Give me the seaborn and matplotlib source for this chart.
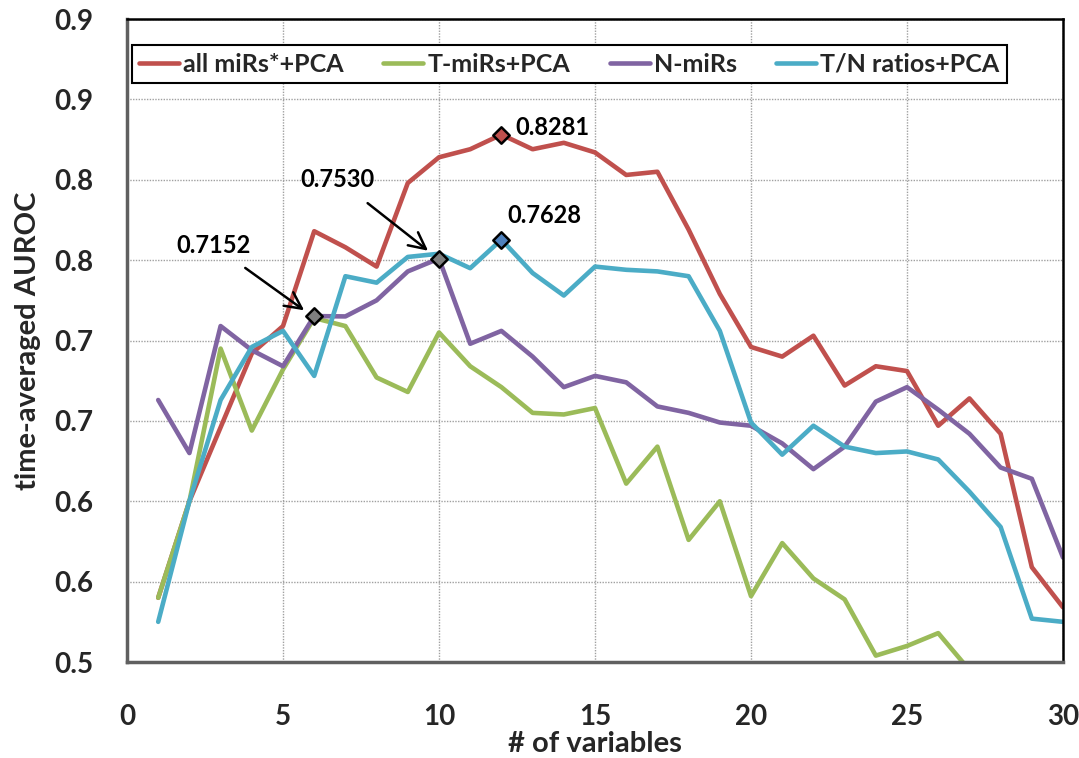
import numpy as np
import pandas as pd
import seaborn as sns
import matplotlib.pyplot as plt
from matplotlib.lines import Line2D

# ---- data ----
n_vars = list(range(1, 31))

all_mirs_pca = [0.540, 0.600, 0.646, 0.692, 0.709, 0.768, 0.758, 0.746, 0.798, 0.814,
                0.819, 0.8281, 0.819, 0.823, 0.817, 0.803, 0.805, 0.769, 0.729, 0.696,
                0.690, 0.703, 0.672, 0.684, 0.681, 0.647, 0.664, 0.642, 0.559, 0.534]
t_mirs_pca = [0.540, 0.600, 0.695, 0.644, 0.682, 0.714, 0.709, 0.677, 0.668, 0.705,
              0.684, 0.671, 0.655, 0.654, 0.658, 0.611, 0.634, 0.576, 0.600, 0.541,
              0.574, 0.552, 0.539, 0.504, 0.510, 0.518, 0.495, np.nan, np.nan, np.nan]
n_mirs = [0.663, 0.630, 0.709, 0.694, 0.684, 0.7152, 0.715, 0.725, 0.743, 0.751,
          0.698, 0.706, 0.690, 0.671, 0.678, 0.674, 0.659, 0.655, 0.649, 0.647,
          0.636, 0.620, 0.634, 0.662, 0.671, 0.657, 0.642, 0.621, 0.614, 0.565]
tn_ratios_pca = [0.525, 0.600, 0.663, 0.696, 0.706, 0.678, 0.740, 0.736, 0.752, 0.754,
                 0.745, 0.7628, 0.742, 0.728, 0.746, 0.744, 0.743, 0.740, 0.706, 0.649,
                 0.629, 0.647, 0.634, 0.630, 0.631, 0.626, 0.606, 0.584, 0.527, 0.525]

series_names = ["all miRs*+PCA", "T-miRs+PCA", "N-miRs", "T/N ratios+PCA"]
series_colors = ["#C0504D", "#9BBB59", "#8064A2", "#4BACC6"]

y_ticks = [0.50, 0.55, 0.60, 0.65, 0.70, 0.75, 0.80, 0.85, 0.90]
y_tick_labels = ["0.5", "0.6", "0.6", "0.7", "0.7", "0.8", "0.8", "0.9", "0.9"]
x_ticks = [0, 5, 10, 15, 20, 25, 30]

# highlighted points: (series, x, label)
highlights = [("N-miRs", 6, "0.7152"), ("N-miRs", 10, "0.7530"),
              ("all miRs*+PCA", 12, "0.8281"), ("T/N ratios+PCA", 12, "0.7628")]

df = pd.DataFrame({
    "vars": n_vars * 4,
    "auroc": all_mirs_pca + t_mirs_pca + n_mirs + tn_ratios_pca,
    "model": sum([[s] * len(n_vars) for s in series_names], []),
})

sns.set_style("white")
plt.rcParams["font.family"] = ["Lato", "DejaVu Sans"]
plt.rcParams["font.weight"] = "bold"

fig = plt.figure(figsize=(10.79, 7.58), dpi=100)
ax = fig.add_axes([0.1177, 0.1266, 0.8675, 0.8483])

sns.lineplot(data=df, x="vars", y="auroc", hue="model", hue_order=series_names,
             palette=series_colors, linewidth=3.3, ax=ax, legend=False)

# diamond markers
lookup = dict(zip(series_names, [all_mirs_pca, t_mirs_pca, n_mirs, tn_ratios_pca]))
fills = {"N-miRs": "#7f7f7f", "all miRs*+PCA": "#C0504D", "T/N ratios+PCA": "#4F81BD"}
for name, xv, lab in highlights:
    yv = lookup[name][xv - 1]
    ax.scatter([xv], [yv], marker="D", s=70, facecolor=fills[name],
               edgecolor="black", linewidth=1.8, zorder=5)

txt = dict(fontsize=17, fontweight="bold", color="black")
arrow = dict(arrowstyle="->,head_length=0.7,head_width=0.35", color="black",
             lw=1.8, shrinkA=10)
ax.annotate("0.7152", xy=(5.75, 0.7178), xytext=(2.77, 0.7594),
            ha="center", va="center", arrowprops=arrow, **txt)
ax.annotate("0.7530", xy=(9.72, 0.7548), xytext=(6.76, 0.800),
            ha="center", va="center", arrowprops=arrow, **txt)
ax.text(12.46, 0.8328, "0.8281", ha="left", va="center", **txt)
ax.text(12.2, 0.778, "0.7628", ha="left", va="center", **txt)

ax.set_xlim(0, 30)
ax.set_ylim(0.5, 0.9)
ax.set_xticks(x_ticks)
ax.set_yticks(y_ticks)
ax.set_yticklabels(y_tick_labels)
ax.tick_params(axis="both", labelsize=20, direction="out", width=1.5, color="#606060")
ax.tick_params(axis="x", length=3, pad=27)
ax.tick_params(axis="y", length=6, pad=18)
for lab in ax.get_xticklabels() + ax.get_yticklabels():
    lab.set_fontweight("bold")
ax.grid(True, linestyle=(0, (1, 1)), color="#a0a0a0", linewidth=1.0)

for side in ["top", "right"]:
    ax.spines[side].set_color("black")
    ax.spines[side].set_linewidth(1.8)
for side in ["left", "bottom"]:
    ax.spines[side].set_color("#606060")
    ax.spines[side].set_linewidth(2.5)

ax.set_xlabel("# of variables", fontsize=21, fontweight="bold")
ax.set_ylabel("time-averaged AUROC", fontsize=21, fontweight="bold")
ax.xaxis.set_label_coords(0.5, -0.107)
ax.yaxis.set_label_coords(-0.092, 0.5)

handles = [Line2D([0], [0], color=c, lw=3.3) for c in series_colors]
leg = ax.legend(handles, series_names, ncol=4, loc="lower left",
                bbox_to_anchor=(0.005, 0.90, 0.935, 0.067), mode="expand",
                handlelength=1.6, handletextpad=0.15, borderaxespad=0,
                borderpad=0.3, prop={"size": 18, "weight": "bold"}, frameon=True,
                fancybox=False, framealpha=1)
leg.get_frame().set_edgecolor("black")
leg.get_frame().set_linewidth(1.5)

fig.savefig("out.png", dpi=100)
